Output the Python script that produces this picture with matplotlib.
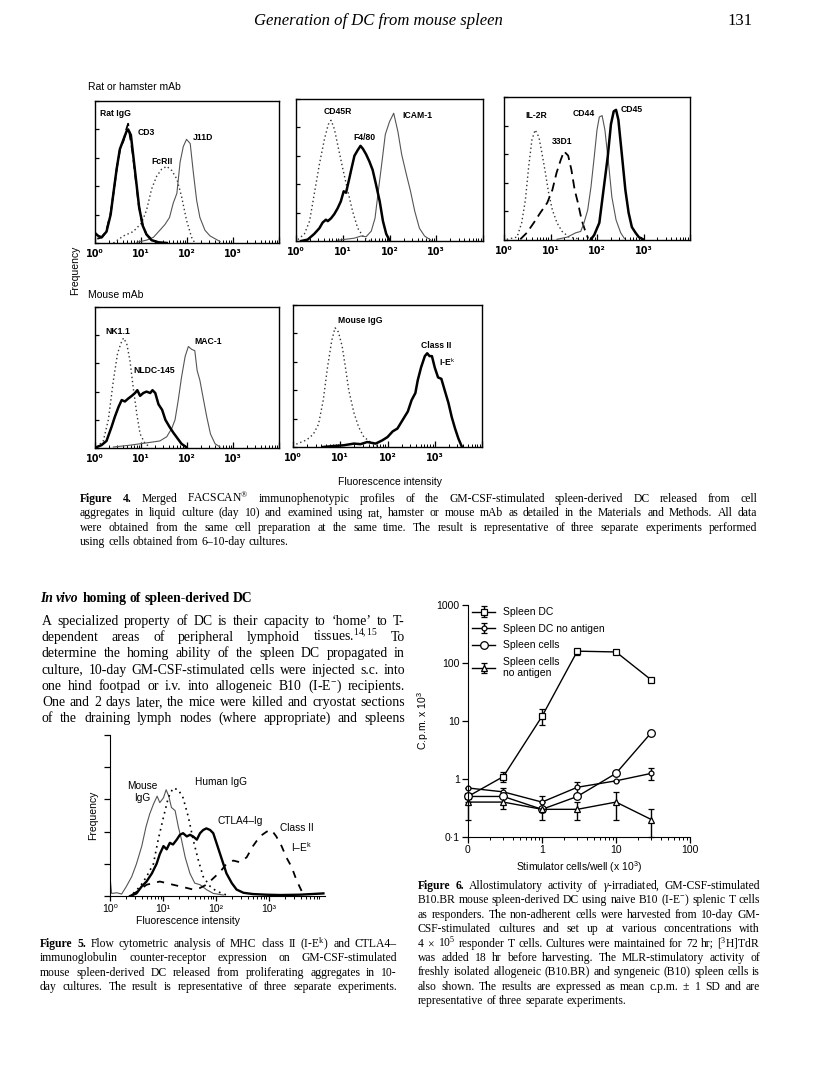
import matplotlib
matplotlib.use('Agg')
import matplotlib.pyplot as plt
import numpy as np
from matplotlib.ticker import FixedLocator, LogLocator, NullFormatter

W, H = 816, 1083
plt.rcParams['mathtext.fontset'] = 'custom'
plt.rcParams['mathtext.rm'] = 'Liberation Serif'
plt.rcParams['mathtext.it'] = 'Liberation Serif:italic'
plt.rcParams['mathtext.bf'] = 'Liberation Serif:bold'
plt.rcParams['mathtext.sf'] = 'Liberation Sans'
SANS = ['Liberation Sans', 'DejaVu Sans']
SERIF = ['Liberation Serif', 'DejaVu Serif']

# ---------------- data: Figure 4 (log10 fluorescence, frequency %) -------------
a_ratigg_d = [0.0, 0.07, 0.145, 0.25, 0.34, 0.40, 0.47, 0.54, 0.62, 0.69, 0.72, 0.78, 0.83, 0.89, 0.96, 1.04, 1.12, 1.23, 1.38, 1.56]
a_ratigg_v = [7, 5, 4, 8, 20, 35, 52, 66, 73, 79, 80, 76, 62, 45, 25, 12, 6, 2, 0.5, 0]
a_cd3_d = [0.05, 0.15, 0.25, 0.34, 0.41, 0.48, 0.55, 0.62, 0.68, 0.72, 0.76, 0.82, 0.88, 0.95, 1.03, 1.12, 1.25, 1.40]
a_cd3_v = [3, 4, 9, 21, 37, 54, 67, 72, 80, 84, 75, 63, 46, 27, 13, 6, 2, 0]
a_fcrii_d = [0.40, 0.62, 0.83, 1.01, 1.12, 1.23, 1.34, 1.45, 1.56, 1.67, 1.78, 1.88, 1.99, 2.10, 2.17]
a_fcrii_v = [0, 5, 8, 14, 23, 38, 47, 52, 54, 51, 45, 33, 16, 4, 0]
a_j11d_d = [0.91, 1.12, 1.27, 1.41, 1.52, 1.62, 1.70, 1.78, 1.85, 1.92, 1.99, 2.07, 2.14, 2.21, 2.28, 2.39, 2.50, 2.61, 2.72]
a_j11d_v = [0.5, 2, 4, 9, 13, 18, 28, 35, 57, 68, 73, 70, 49, 30, 18, 9, 5, 3, 1]

b_cd45r_d = [0.04, 0.18, 0.29, 0.39, 0.50, 0.61, 0.69, 0.75, 0.82, 0.89, 1.00, 1.11, 1.21, 1.32, 1.46, 1.61]
b_cd45r_v = [1, 5, 14, 33, 54, 72, 82, 85, 79, 68, 51, 35, 21, 9, 2, 0]
b_f480_d = [0.11, 0.25, 0.39, 0.50, 0.57, 0.64, 0.68, 0.75, 0.82, 0.89, 0.96, 1.02, 1.07, 1.14, 1.18, 1.25, 1.32, 1.38, 1.43, 1.50, 1.57, 1.64, 1.71, 1.79, 1.86, 1.93, 2.00]
b_f480_v = [0, 1, 5, 9, 13, 15, 14, 16, 19, 23, 28, 35, 34, 44, 50, 60, 64, 67, 65, 61, 56, 50, 40, 28, 14, 5, 0.5]
b_icam_d = [0.89, 1.25, 1.39, 1.50, 1.61, 1.69, 1.76, 1.84, 1.91, 2.00, 2.09, 2.18, 2.26, 2.36, 2.45, 2.54, 2.64, 2.75, 2.89]
b_icam_v = [0.5, 2, 3.5, 3, 7, 16, 35, 56, 75, 84, 90, 77, 61, 47, 35, 21, 9, 3.5, 0.5]

c_il2r_d = [0.06, 0.28, 0.38, 0.46, 0.53, 0.60, 0.67, 0.75, 0.82, 0.89, 0.96, 1.04, 1.14, 1.25, 1.40, 1.58]
c_il2r_v = [0.5, 2, 12, 28, 51, 70, 77, 72, 60, 47, 33, 21, 12, 6, 2, 1]
c_33d1_d = [0.35, 0.49, 0.64, 0.78, 0.93, 1.04, 1.13, 1.22, 1.29, 1.38, 1.45, 1.52, 1.59, 1.67, 1.74, 1.81]
c_33d1_v = [0.5, 5, 12, 19, 26, 35, 47, 56, 62, 59, 49, 35, 26, 14, 7, 1]
c_cd44_d = [1.14, 1.36, 1.54, 1.65, 1.72, 1.80, 1.87, 1.94, 2.00, 2.05, 2.11, 2.17, 2.25, 2.32, 2.41, 2.51, 2.59]
c_cd44_v = [0.5, 2, 5, 6, 12, 21, 37, 58, 77, 86, 87, 77, 53, 30, 14, 5, 1]
c_cd45_d = [1.87, 1.94, 2.05, 2.14, 2.23, 2.30, 2.36, 2.41, 2.46, 2.54, 2.61, 2.68, 2.75, 2.83, 2.90, 2.99]
c_cd45_v = [0.5, 3.5, 12, 35, 58, 81, 90, 91, 84, 58, 35, 19, 9, 5, 2, 0.5]

d_nk_d = [0.04, 0.18, 0.29, 0.40, 0.49, 0.56, 0.62, 0.69, 0.76, 0.83, 0.91, 0.98, 1.09, 1.20]
d_nk_v = [0.7, 5, 20, 48, 67, 74, 78, 74, 62, 43, 24, 10, 3, 0.7]
d_nldc_d = [0.04, 0.14, 0.25, 0.36, 0.43, 0.51, 0.58, 0.65, 0.72, 0.80, 0.87, 0.92, 0.98, 1.05, 1.12, 1.20, 1.25, 1.31, 1.38, 1.46, 1.53, 1.62, 1.70, 1.79, 1.88, 1.98]
d_nldc_v = [0.7, 2, 5, 15, 22, 29, 34, 33, 35, 37, 39, 41, 37, 39, 40, 39, 41, 39, 31, 27, 20, 15, 11, 7, 3, 0.7]
d_mac_d = [0.40, 0.76, 0.98, 1.20, 1.41, 1.56, 1.67, 1.74, 1.81, 1.88, 1.96, 2.03, 2.10, 2.17, 2.22, 2.28, 2.36, 2.43, 2.51, 2.61, 2.72]
d_mac_v = [0.7, 2, 3, 4, 5, 8, 14, 20, 34, 50, 65, 72, 70, 69, 55, 48, 34, 22, 10, 3, 0.7]

e_migg_d = [0.07, 0.29, 0.43, 0.54, 0.64, 0.73, 0.82, 0.89, 0.96, 1.04, 1.11, 1.18, 1.29, 1.39, 1.50, 1.64, 1.79]
e_migg_v = [2, 5, 9, 16, 33, 56, 75, 84, 81, 71, 56, 40, 24, 14, 7, 3.5, 0.5]
e_cl2_d = [0.64, 0.86, 1.07, 1.29, 1.43, 1.57, 1.75, 1.89, 2.00, 2.11, 2.21, 2.32, 2.43, 2.51, 2.59, 2.64, 2.71, 2.79, 2.84, 2.89, 2.94, 3.00, 3.07, 3.14, 3.21, 3.29, 3.36, 3.43, 3.50, 3.57]
e_cl2_v = [0, 0.7, 1.2, 2.4, 2, 3.5, 2.4, 4.7, 7, 11, 13, 19, 25, 33, 38, 47, 56, 64, 66, 64, 64, 56, 49, 48, 40, 31, 21, 13, 6, 0.5]

# ---------------- data: Figure 5 ----------------
f5_migg_d = [0, 0.03, 0.13, 0.22, 0.31, 0.41, 0.50, 0.60, 0.68, 0.75, 0.82, 0.89, 0.94, 1.01, 1.06, 1.11, 1.16, 1.23, 1.29, 1.35, 1.42, 1.51, 1.60, 1.70, 1.82, 1.95, 2.14]
f5_migg_v = [12, 1.6, 2, 1.2, 6, 12, 20, 31, 43, 51, 57, 62, 58, 61, 66, 62, 55, 53, 43, 35, 24, 14, 8, 7, 4, 1.6, 0.6]
f5_higg_d = [0.44, 0.57, 0.69, 0.82, 0.91, 1.01, 1.10, 1.19, 1.29, 1.38, 1.48, 1.57, 1.67, 1.76, 1.89, 2.01, 2.20]
f5_higg_v = [1.6, 6, 12, 20, 35, 49, 61, 67, 66, 61, 49, 35, 22, 12, 6, 3, 0.6]
f5_ctla_d = [0.38, 0.50, 0.60, 0.69, 0.79, 0.88, 0.94, 1.01, 1.07, 1.13, 1.19, 1.26, 1.32, 1.38, 1.45, 1.51, 1.57, 1.64, 1.70, 1.76, 1.82, 1.89, 1.95, 2.01, 2.08, 2.14, 2.20, 2.30, 2.39, 2.52, 2.70, 2.96, 3.21, 3.58, 4.03]
f5_ctla_v = [0, 1.6, 6, 9, 14, 20, 26, 31, 29, 33, 32, 35, 38, 39, 37, 38, 37, 35, 39, 41, 42, 41, 39, 33, 26, 20, 14, 8, 4, 2, 1.2, 0.8, 0.6, 0.8, 1.6]
f5_cl2_d = [0.41, 0.57, 0.69, 0.82, 0.94, 1.07, 1.19, 1.32, 1.45, 1.57, 1.70, 1.82, 1.95, 2.08, 2.20, 2.33, 2.45, 2.58, 2.70, 2.83, 2.96, 3.05, 3.14, 3.24, 3.33, 3.43, 3.52, 3.62, 3.71]
f5_cl2_v = [0.6, 4, 7, 8, 9, 8, 7, 6, 5, 4, 5, 7, 11, 15, 20, 22, 21, 24, 31, 37, 40, 41, 37, 31, 24, 18, 10, 3, 0.6]

# ---------------- data: Figure 6 ----------------
stim_labels = ['0', '0.3', '1', '3', '10', '30']
stim_pos = [0.1, 0.3, 1, 3, 10, 30]          # "0" is drawn at the 0.1 position of the log axis
dc = [0.5, 1.1, 12, 160, 155, 51]
dc_lo = [0.5, 0.9, 8.5, 140, 155, 51]
dc_hi = [0.5, 1.3, 16, 160, 155, 51]
dc_noag = [0.7, 0.6, 0.4, 0.72, 0.93, 1.25]
dc_noag_lo = [0.7, 0.55, 0.3, 0.55, 0.93, 0.95]
dc_noag_hi = [0.7, 0.7, 0.5, 0.9, 0.93, 1.55]
cells = [0.5, 0.5, 0.3, 0.5, 1.25, 6.3]
cells_noag = [0.4, 0.4, 0.3, 0.3, 0.4, 0.2]
cells_noag_lo = [0.2, 0.3, 0.2, 0.2, 0.2, 0.1]
cells_noag_hi = [0.4, 0.5, 0.4, 0.4, 0.6, 0.3]

fig = plt.figure(figsize=(W / 100, H / 100), dpi=100)
renderer = fig.canvas.get_renderer()


def fx(x):
    return x / W


def fy(y):
    return 1 - y / H


def add_ax(l, t, r, b):
    return fig.add_axes([fx(l), fy(b), (r - l) / W, (b - t) / H])


def ftext(x, y, s, **kw):
    kw.setdefault('family', SANS)
    return fig.text(fx(x), fy(y), s, **kw)


# ---------------- justified text helper ----------------
def parse(w):
    if w.startswith('@I'):
        return w[2:], 'bold', 'italic'
    if w.startswith('@b'):
        return w[2:], 'bold', 'normal'
    if w.startswith('@i'):
        return w[2:], 'normal', 'italic'
    return w, 'normal', 'normal'


def text_line(line, x0, x1, y, size, justify=True):
    objs = []
    for w in line.split(' '):
        s, wt, st = parse(w)
        t = fig.text(0, 0, s, fontsize=size, family=SERIF, weight=wt, style=st,
                     va='baseline', ha='left')
        objs.append(t)
    widths = [t.get_window_extent(renderer).width for t in objs]
    if justify and len(objs) > 1:
        gap = (x1 - x0 - sum(widths)) / (len(objs) - 1)
    else:
        gap = size * 100 / 72 * 0.25
    x = x0
    for t, w in zip(objs, widths):
        t.set_position((fx(x), fy(y)))
        x += w + gap


def paragraph(lines, x0, x1, y0, dy, size, last_left=True):
    for i, ln in enumerate(lines):
        just = not (last_left and i == len(lines) - 1)
        text_line(ln, x0, x1, y0 + i * dy, size, justify=just)


# ---------------- header ----------------
fig.text(fx(378), fy(25), 'Generation of DC from mouse spleen', family=SERIF, style='italic',
         fontsize=12, ha='center', va='baseline')
fig.text(fx(752), fy(25), '131', family=SERIF, fontsize=12, ha='right', va='baseline')

# ---------------- Figure 4 ----------------
THICK = dict(color='black', lw=1.8)
THIN = dict(color='#555555', lw=0.8)
DOT = dict(color='#333333', lw=1.0, linestyle=(0, (1, 2)))
DASH = dict(color='black', lw=1.3, linestyle=(0, (5, 3)))


def facs_axes(l, t, r, b):
    ax = add_ax(l, t, r, b)
    ax.set_xscale('log')
    ax.set_xlim(1, 1e4)
    ax.set_ylim(0, 100)
    ax.set_yticks([0, 20, 40, 60, 80, 100])
    ax.set_yticklabels([])
    ax.xaxis.set_major_locator(FixedLocator([1, 10, 100, 1000, 10000]))
    ax.xaxis.set_minor_locator(LogLocator(base=10, subs=np.arange(2, 10), numticks=20))
    ax.xaxis.set_minor_formatter(NullFormatter())
    ax.set_xticks([1, 10, 100, 1000, 10000], labels=['10⁰', '10¹', '10²', '10³', ''],
                  fontfamily=['DejaVu Sans'], fontweight='bold', fontsize=7)
    ax.tick_params(axis='x', which='major', direction='in', length=4, width=0.9, pad=4)
    ax.tick_params(axis='x', which='minor', direction='in', length=2.5, width=0.7)
    ax.tick_params(axis='y', direction='in', length=3, width=0.9)
    for s in ax.spines.values():
        s.set_linewidth(1.0)
    return ax


def curve(ax, d, v, style):
    ax.plot(10 ** np.array(d), v, **style)


ftext(88, 87, 'Rat or hamster mAb', fontsize=7.5, va='center')
axA = facs_axes(95, 101, 279, 243)
curve(axA, a_fcrii_d, a_fcrii_v, DOT)
curve(axA, a_j11d_d, a_j11d_v, THIN)
curve(axA, a_cd3_d, a_cd3_v, DASH)
curve(axA, a_ratigg_d, a_ratigg_v, THICK)
lab = dict(fontsize=6.2, weight='bold', ha='center', va='center')
ftext(115, 113, 'Rat IgG', **lab)
ftext(146, 133, 'CD3', **lab)
ftext(203, 138, 'J11D', **lab)
ftext(162, 161, 'FcRII', **lab)

axB = facs_axes(296, 99, 483, 241)
curve(axB, b_cd45r_d, b_cd45r_v, DOT)
curve(axB, b_icam_d, b_icam_v, THIN)
curve(axB, b_f480_d, b_f480_v, THICK)
ftext(338, 112, 'CD45R', **lab)
ftext(364, 137, 'F4/80', **lab)
ftext(417, 115, 'ICAM-1', **lab)

axC = facs_axes(504, 97, 690, 240)
curve(axC, c_il2r_d, c_il2r_v, DOT)
curve(axC, c_33d1_d, c_33d1_v, DASH)
curve(axC, c_cd44_d, c_cd44_v, THIN)
curve(axC, c_cd45_d, c_cd45_v, THICK)
ftext(536, 116, 'IL-2R', **lab)
ftext(562, 142, '33D1', **lab)
ftext(584, 113, 'CD44', **lab)
ftext(632, 110, 'CD45', **lab)

ftext(75, 270, 'Frequency', fontsize=7.5, rotation=90, ha='center', va='center')
ftext(88, 295, 'Mouse mAb', fontsize=7.5, va='center')

axD = facs_axes(95, 307, 279, 448)
curve(axD, d_nk_d, d_nk_v, DOT)
curve(axD, d_mac_d, d_mac_v, THIN)
curve(axD, d_nldc_d, d_nldc_v, THICK)
ftext(118, 332, 'NK1.1', **lab)
ftext(154, 370, 'NLDC-145', **lab)
ftext(208, 342, 'MAC-1', **lab)

axE = facs_axes(293, 305, 482, 447)
curve(axE, e_migg_d, e_migg_v, DOT)
curve(axE, e_cl2_d, e_cl2_v, THICK)
ftext(360, 320, 'Mouse IgG', **lab)
ftext(436, 345, 'Class II', **lab)
ftext(447, 362, 'I-E$^{\\mathsf{k}}$', **lab)

ftext(390, 482, 'Fluorescence intensity', fontsize=7.5, ha='center', va='center')

cap4 = [
    '@bFigure @b4. Merged FACSCAN$^{\\circledR}$ immunophenotypic profiles of the GM-CSF-stimulated spleen-derived DC released from cell',
    'aggregates in liquid culture (day 10) and examined using rat, hamster or mouse mAb as detailed in the Materials and Methods. All data',
    'were obtained from the same cell preparation at the same time. The result is representative of three separate experiments performed',
    'using cells obtained from 6–10-day cultures.',
]
paragraph(cap4, 80, 757, 502, 14.3, 8.4)

# ---------------- body text ----------------
text_line('@IIn @Ivivo @bhoming @bof @bspleen-derived @bDC', 40, 300, 602, 9.8, justify=False)
body = [
    'A specialized property of DC is their capacity to ‘home’ to T-',
    'dependent areas of peripheral lymphoid tissues.$^{14,15}$ To',
    'determine the homing ability of the spleen DC propagated in',
    'culture, 10-day GM-CSF-stimulated cells were injected s.c. into',
    'one hind footpad or i.v. into allogeneic B10 (I-E$^{-}$) recipients.',
    'One and 2 days later, the mice were killed and cryostat sections',
    'of the draining lymph nodes (where appropriate) and spleens',
]
paragraph(body, 42, 405, 625, 16.2, 9.9, last_left=False)

# ---------------- Figure 5 ----------------
ax5 = add_ax(110, 735, 325, 896)
ax5.set_xscale('log')
ax5.set_xlim(1, 10 ** 4.06)
ax5.set_ylim(0, 100)
ax5.spines['top'].set_visible(False)
ax5.spines['right'].set_visible(False)
ax5.set_yticks([0, 20, 40, 60, 80, 100])
ax5.set_yticklabels([])
ax5.xaxis.set_minor_locator(LogLocator(base=10, subs=np.arange(2, 10), numticks=20))
ax5.xaxis.set_minor_formatter(NullFormatter())
ax5.set_xticks([1, 10, 100, 1000], labels=['10⁰', '10¹', '10²', '10³'],
               fontfamily=SANS, fontsize=7.5)
ax5.tick_params(axis='y', direction='out', length=4, width=0.9)
ax5.tick_params(axis='x', which='major', direction='out', length=3.5, width=0.9, pad=2)
ax5.tick_params(axis='x', which='minor', direction='out', length=2, width=0.7)
curve(ax5, f5_migg_d, f5_migg_v, dict(color='#555555', lw=0.8))
curve(ax5, f5_higg_d, f5_higg_v, dict(color='black', lw=1.2, linestyle=(0, (1, 2.5))))
curve(ax5, f5_cl2_d, f5_cl2_v, dict(color='black', lw=1.3, linestyle=(0, (4, 4))))
curve(ax5, f5_ctla_d, f5_ctla_v, dict(color='black', lw=1.7))
lab5 = dict(fontsize=7.3, ha='center', va='center')
ftext(142, 786, 'Mouse', **lab5)
ftext(142, 798, 'IgG', **lab5)
ftext(221, 782, 'Human IgG', **lab5)
ftext(240, 821, 'CTLA4–Ig', **lab5)
ftext(297, 828, 'Class II', **lab5)
ftext(301, 847, 'I–E$^{\\mathsf{k}}$', **lab5)
ftext(93, 815, 'Frequency', fontsize=7.5, rotation=90, ha='center', va='center')
ftext(188, 921, 'Fluorescence intensity', fontsize=7.5, ha='center', va='center')

cap5 = [
    '@bFigure @b5. Flow cytometric analysis of MHC class II (I-E$^{\\mathrm{k}}$) and CTLA4–',
    'immunoglobulin counter-receptor expression on GM-CSF-stimulated',
    'mouse spleen-derived DC released from proliferating aggregates in 10-',
    'day cultures. The result is representative of three separate experiments.',
]
paragraph(cap5, 40, 397, 947, 14.3, 8.4, last_left=False)

# ---------------- Figure 6 ----------------
ax6 = add_ax(468, 605, 690, 837)
ax6.set_xscale('log')
ax6.set_yscale('log')
ax6.set_xlim(0.1, 100)
ax6.set_ylim(0.1, 1000)
ax6.spines['top'].set_visible(False)
ax6.spines['right'].set_visible(False)


def series(y, lo, hi, marker, ms, label):
    y = np.array(y)
    err = None
    if lo is not None:
        err = [y - np.array(lo), np.array(hi) - y]
    ax6.errorbar(stim_pos, y, yerr=err, color='black', lw=1.0, marker=marker, ms=ms,
                 mfc='white', mec='black', mew=0.9, capsize=2.5, elinewidth=1.0,
                 label=label, clip_on=False)


series(dc, dc_lo, dc_hi, 's', 5, 'Spleen DC')
series(dc_noag, dc_noag_lo, dc_noag_hi, 'o', 3.5, 'Spleen DC no antigen')
series(cells, None, None, 'o', 5.5, 'Spleen cells')
series(cells_noag, cells_noag_lo, cells_noag_hi, '^', 5, 'Spleen cells\nno antigen')

ax6.set_yticks([0.1, 1, 10, 100, 1000], labels=['0·1', '1', '10', '100', '1000'],
               fontfamily=SANS, fontsize=7.5)
ax6.yaxis.set_minor_locator(FixedLocator([]))
ax6.set_xticks([0.1, 1, 10, 100], labels=['0', '1', '10', '100'], fontfamily=SANS, fontsize=7.5)
ax6.xaxis.set_minor_locator(LogLocator(base=10, subs=np.arange(2, 10), numticks=20))
ax6.xaxis.set_minor_formatter(NullFormatter())
ax6.tick_params(axis='both', which='major', direction='out', length=4, width=0.9, pad=2)
ax6.tick_params(axis='x', which='minor', direction='out', length=2, width=0.7)
ax6.set_ylabel('C.p.m. x 10$^{\\mathsf{3}}$', fontfamily=SANS, fontsize=7.5, labelpad=4)
ax6.set_xlabel('Stimulator cells/well (x 10$^{\\mathsf{3}}$)', fontfamily=SANS, fontsize=7.5, labelpad=3)
leg = ax6.legend(loc='upper left', bbox_to_anchor=(0.02, 0.99), frameon=False,
                 prop={'family': SANS, 'size': 7.5}, handlelength=2.2, handletextpad=0.7,
                 labelspacing=0.62, borderaxespad=0, borderpad=0)

cap6 = [
    '@bFigure @b6. Allostimulatory activity of $\\gamma$-irradiated, GM-CSF-stimulated',
    'B10.BR mouse spleen-derived DC using naive B10 (I-E$^{-}$) splenic T cells',
    'as responders. The non-adherent cells were harvested from 10-day GM-',
    'CSF-stimulated cultures and set up at various concentrations with',
    '4 $\\times$ 10$^{5}$ responder T cells. Cultures were maintained for 72 hr; [$^{3}$H]TdR',
    'was added 18 hr before harvesting. The MLR-stimulatory activity of',
    'freshly isolated allogeneic (B10.BR) and syngeneic (B10) spleen cells is',
    'also shown. The results are expressed as mean c.p.m. $\\pm$ 1 SD and are',
    'representative of three separate experiments.',
]
paragraph(cap6, 418, 760, 889, 14.4, 8.4)

fig.savefig('out.png', dpi=100)
